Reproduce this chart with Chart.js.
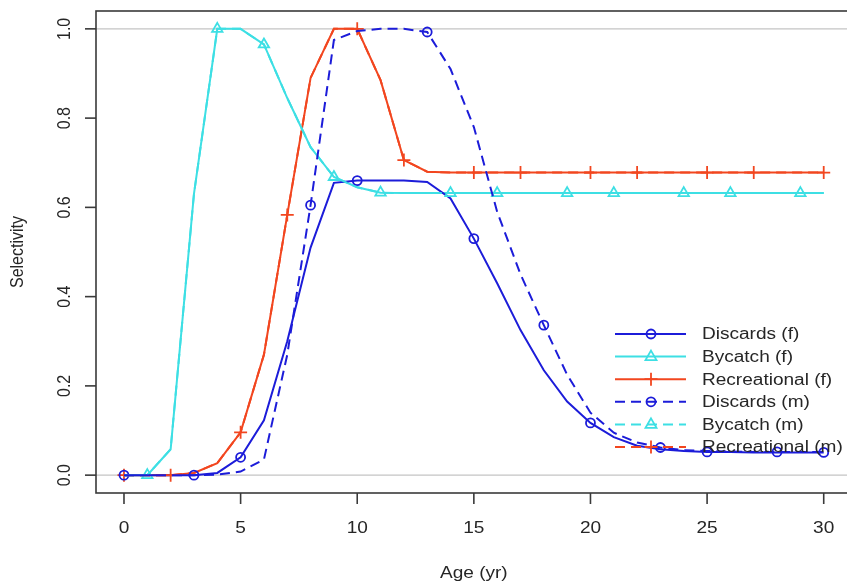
<!DOCTYPE html>
<html>
<head>
<meta charset="utf-8">
<script src="https://cdn.jsdelivr.net/npm/chart.js@4.4.1/dist/chart.umd.min.js"></script>
<style>
  html, body { margin: 0; padding: 0; background: #fff; overflow: hidden; }
  canvas { display: block; }
</style>
</head>
<body>
<canvas id="selChart" width="860" height="585"></canvas>
<script>
  // ages on the x axis
  const ages = [0, 1, 2, 3, 4, 5, 6, 7, 8, 9, 10, 11, 12, 13, 14, 15, 16, 17, 18, 19, 20,
                21, 22, 23, 24, 25, 26, 27, 28, 29, 30];

  // selectivity
  const discardsF = [0, 0, 0, 0, 0.005, 0.04, 0.123, 0.30, 0.51, 0.655, 0.66, 0.66, 0.66, 0.657,
                     0.62, 0.53, 0.43, 0.325, 0.235, 0.165, 0.117, 0.085, 0.066, 0.058, 0.054,
                     0.052, 0.052, 0.051, 0.051, 0.051, 0.051];
  const bycatchF = [0, 0, 0.058, 0.63, 1.0, 1.0, 0.965, 0.845, 0.735, 0.668, 0.645, 0.633, 0.632,
                    0.632, 0.632, 0.632, 0.632, 0.632, 0.632, 0.632, 0.632, 0.632, 0.632, 0.632,
                    0.632, 0.632, 0.632, 0.632, 0.632, 0.632, 0.632];
  const recreationalF = [0, 0, 0, 0.005, 0.027, 0.096, 0.27, 0.583, 0.89, 1.0, 1.0, 0.885, 0.706,
                         0.68, 0.678, 0.678, 0.678, 0.678, 0.678, 0.678, 0.678, 0.678, 0.678,
                         0.678, 0.678, 0.678, 0.678, 0.678, 0.678, 0.678, 0.678];
  const discardsM = [0, 0, 0, 0, 0.001, 0.008, 0.035, 0.27, 0.605, 0.975, 0.995, 1.0, 1.0, 0.993,
                     0.91, 0.78, 0.59, 0.45, 0.336, 0.225, 0.14, 0.095, 0.073, 0.062, 0.056,
                     0.054, 0.053, 0.052, 0.052, 0.052, 0.052];
  const bycatchM = bycatchF.slice();
  const recreationalM = recreationalF.slice();

  // ages where a symbol is plotted
  const discardsFMarks = [0, 5, 10, 15, 20, 25, 30];
  const bycatchFMarks = [1, 6, 11, 16, 21, 26];
  const recreationalFMarks = [0, 5, 10, 15, 20, 25, 30];
  const discardsMMarks = [3, 8, 13, 18, 23, 28];
  const bycatchMMarks = [4, 9, 14, 19, 24, 29];
  const recreationalMMarks = [2, 7, 12, 17, 22, 27];

  const seriesLabels = ['Discards (f)', 'Bycatch (f)', 'Recreational (f)',
                        'Discards (m)', 'Bycatch (m)', 'Recreational (m)'];
  const xTicks = [0, 5, 10, 15, 20, 25, 30];
  const yTicks = [0, 0.2, 0.4, 0.6, 0.8, 1.0];

  const BLUE = '#1c1cd9', CYAN = '#3ddfe4', RED = '#f2461f';
  const TXT = '#262626', AXC = '#3a3a3a';
  const SX = 1.19;          // the picture is stretched sideways a little
  const FONT = '16px "Liberation Sans", Arial, sans-serif';

  function makeSet(label, vals, marks, color, style, dashed, radius) {
    return {
      label: label,
      data: ages.map((a, i) => ({ x: a, y: vals[i] })),
      borderColor: color,
      borderWidth: 2,
      borderDash: dashed ? [10, 6] : [],
      pointStyle: style,
      pointRadius: ages.map(a => marks.includes(a) ? radius : 0),
      pointBorderColor: color,
      pointBackgroundColor: 'rgba(0,0,0,0)',
      pointBorderWidth: 1.8,
      fill: false,
      tension: 0,
      order: dashed ? 1 : 2
    };
  }

  function drawMark(ctx, style, x, y, color) {
    ctx.save();
    ctx.strokeStyle = color;
    ctx.lineWidth = 1.8;
    ctx.setLineDash([]);
    ctx.beginPath();
    if (style === 'circle') {
      ctx.arc(x, y, 4.5, 0, Math.PI * 2);
    } else if (style === 'triangle') {
      ctx.moveTo(x, y - 6); ctx.lineTo(x + 5.5, y + 3.5); ctx.lineTo(x - 5.5, y + 3.5); ctx.closePath();
    } else {
      ctx.moveTo(x - 6.5, y); ctx.lineTo(x + 6.5, y);
      ctx.moveTo(x, y - 6.5); ctx.lineTo(x, y + 6.5);
    }
    ctx.stroke();
    ctx.restore();
  }

  function stretchText(ctx, text, x, y, rotated) {
    ctx.save();
    ctx.translate(x, y);
    if (rotated) { ctx.rotate(-Math.PI / 2); ctx.scale(1, SX); }
    else ctx.scale(SX, 1);
    ctx.fillText(text, 0, 0);
    ctx.restore();
  }

  const rAxes = {
    id: 'rAxes',
    beforeDatasetsDraw(chart) {
      const { ctx, chartArea: a, scales: { y } } = chart;
      ctx.save();
      ctx.strokeStyle = '#c4c4c4';
      ctx.lineWidth = 1.3;
      [0, 1].forEach(v => {
        const py = y.getPixelForValue(v);
        ctx.beginPath(); ctx.moveTo(a.left, py); ctx.lineTo(a.right, py); ctx.stroke();
      });
      ctx.restore();
    },
    afterDatasetsDraw(chart) {
      const { ctx, chartArea: a, scales: { x, y } } = chart;
      ctx.save();
      ctx.strokeStyle = AXC;
      ctx.lineWidth = 1.6;
      ctx.strokeRect(a.left, a.top, a.right - a.left, a.bottom - a.top);

      ctx.fillStyle = TXT;
      ctx.font = FONT;
      ctx.textAlign = 'center';
      ctx.textBaseline = 'alphabetic';
      xTicks.forEach(v => {
        const px = x.getPixelForValue(v);
        ctx.beginPath(); ctx.moveTo(px, a.bottom); ctx.lineTo(px, a.bottom + 11); ctx.stroke();
        stretchText(ctx, String(v), px, 533, false);
      });
      yTicks.forEach(v => {
        const py = y.getPixelForValue(v);
        ctx.beginPath(); ctx.moveTo(a.left, py); ctx.lineTo(a.left - 11, py); ctx.stroke();
        stretchText(ctx, v.toFixed(1), 70, py, true);
      });
      stretchText(ctx, 'Age (yr)', x.getPixelForValue(15), 578, false);
      stretchText(ctx, 'Selectivity', 23, y.getPixelForValue(0.5), true);

      // legend, R style: no box
      const styles = ['circle', 'triangle', 'cross', 'circle', 'triangle', 'cross'];
      const colors = [BLUE, CYAN, RED, BLUE, CYAN, RED];
      ctx.textAlign = 'left';
      ctx.textBaseline = 'middle';
      seriesLabels.forEach((lab, i) => {
        const ry = 334 + i * 22.6;
        ctx.save();
        ctx.strokeStyle = colors[i];
        ctx.lineWidth = 2;
        ctx.setLineDash(i >= 3 ? [10, 6] : []);
        ctx.beginPath(); ctx.moveTo(615, ry); ctx.lineTo(686, ry); ctx.stroke();
        ctx.restore();
        drawMark(ctx, styles[i], 651, ry, colors[i]);
        ctx.fillStyle = TXT;
        stretchText(ctx, lab, 702, ry + 1, false);
      });
      ctx.restore();
    }
  };

  window.onload = () => {
    const ctx = document.getElementById('selChart').getContext('2d');
    new Chart(ctx, {
      type: 'line',
      data: {
        datasets: [
          makeSet(seriesLabels[0], discardsF, discardsFMarks, BLUE, 'circle', false, 4.5),
          makeSet(seriesLabels[1], bycatchF, bycatchFMarks, CYAN, 'triangle', false, 6),
          makeSet(seriesLabels[2], recreationalF, recreationalFMarks, RED, 'cross', false, 6.5),
          makeSet(seriesLabels[3], discardsM, discardsMMarks, BLUE, 'circle', true, 4.5),
          makeSet(seriesLabels[4], bycatchM, bycatchMMarks, CYAN, 'triangle', true, 6),
          makeSet(seriesLabels[5], recreationalM, recreationalMMarks, RED, 'cross', true, 6.5)
        ]
      },
      options: {
        responsive: false,
        animation: false,
        devicePixelRatio: 1,
        layout: { padding: { left: 96, right: 8, top: 11, bottom: 92 } },
        plugins: { legend: { display: false }, tooltip: { enabled: false } },
        scales: {
          x: { type: 'linear', min: -1.2, max: 31.2, display: false },
          y: { type: 'linear', min: -0.04, max: 1.04, display: false }
        }
      },
      plugins: [rAxes]
    });
  };
</script>
</body>
</html>
